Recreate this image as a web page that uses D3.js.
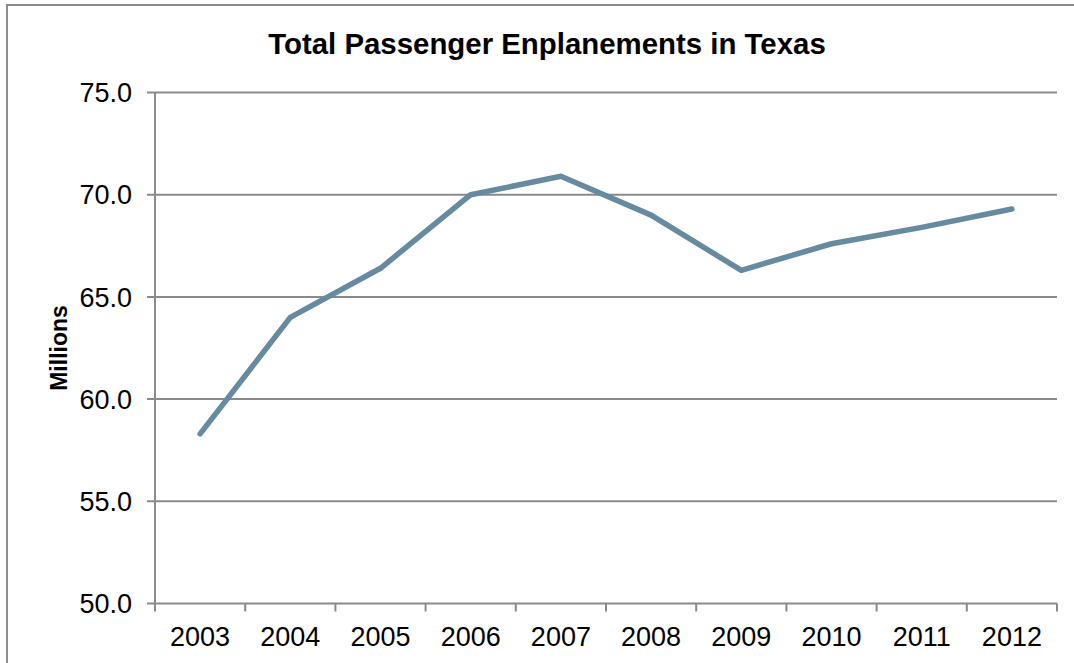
<!DOCTYPE html>
<html>
<head>
<meta charset="utf-8">
<script src="https://cdn.jsdelivr.net/npm/d3@7"></script>
<style>
  body { margin: 0; background: #fff; }
  svg { display: block; }
</style>
</head>
<body>
<svg id="chart"></svg>
<script>
var years = ['2003', '2004', '2005', '2006', '2007', '2008', '2009', '2010', '2011', '2012']
var enplanements = [58.3, 64.0, 66.4, 70.0, 70.9, 69.0, 66.3, 67.6, 68.4, 69.3]
var yTicks = [50, 55, 60, 65, 70, 75]

var width = 1074, height = 663
var margin = {top: 92.5, left: 155, right: 17, bottom: 59.5}
var innerWidth = width - margin.left - margin.right
var innerHeight = height - margin.top - margin.bottom

var svg = d3.select('#chart')
    .attr('width', width)
    .attr('height', height)

// outer chart border (only top and left edges are visible)
svg.append('path')
    .attr('d', 'M7,' + height + 'V5H' + width)
    .attr('fill', 'none')
    .attr('stroke', '#8c8c8c')
    .attr('stroke-width', 2)

svg.append('text')
    .attr('x', 547)
    .attr('y', 54)
    .attr('text-anchor', 'middle')
    .style('font-family', '"Liberation Sans", Arial, sans-serif')
    .style('font-weight', 'bold')
    .style('font-size', '29.4px')
    .text('Total Passenger Enplanements in Texas')

var g = svg.append('g')
    .attr('transform', 'translate(' + margin.left + ', ' + margin.top + ')')

var xScale = d3.scaleBand().domain(years).range([0, innerWidth])
var yScale = d3.scaleLinear().domain([50, 75]).range([innerHeight, 0])

// horizontal gridlines with left tick marks
g.selectAll('.grid')
    .data(yTicks)
    .enter()
    .append('line')
    .attr('x1', -8)
    .attr('x2', innerWidth)
    .attr('y1', function (d) { return yScale(d) })
    .attr('y2', function (d) { return yScale(d) })
    .attr('stroke', '#8a8a8a')
    .attr('stroke-width', 2)

g.selectAll('.ylab')
    .data(yTicks)
    .enter()
    .append('text')
    .attr('x', -23)
    .attr('y', function (d) { return yScale(d) })
    .attr('dy', '0.36em')
    .attr('text-anchor', 'end')
    .style('font-family', '"Liberation Sans", Arial, sans-serif')
    .style('font-size', '27px')
    .text(function (d) { return d.toFixed(1) })

// y axis line
g.append('line')
    .attr('x1', 0).attr('x2', 0)
    .attr('y1', 0).attr('y2', innerHeight)
    .attr('stroke', '#8a8a8a')
    .attr('stroke-width', 2)

// x axis ticks at band edges
var edges = years.map(function (d) { return xScale(d) }).concat([innerWidth])
g.selectAll('.xtick')
    .data(edges)
    .enter()
    .append('line')
    .attr('x1', function (d) { return d })
    .attr('x2', function (d) { return d })
    .attr('y1', innerHeight)
    .attr('y2', innerHeight + 8)
    .attr('stroke', '#8a8a8a')
    .attr('stroke-width', 2)

g.selectAll('.xlab')
    .data(years)
    .enter()
    .append('text')
    .attr('x', function (d) { return xScale(d) + xScale.bandwidth() / 2 })
    .attr('y', innerHeight + 42)
    .attr('text-anchor', 'middle')
    .style('font-family', '"Liberation Sans", Arial, sans-serif')
    .style('font-size', '27px')
    .text(function (d) { return d })

svg.append('text')
    .attr('transform', 'translate(67, 348) rotate(-90)')
    .attr('text-anchor', 'middle')
    .style('font-family', '"Liberation Sans", Arial, sans-serif')
    .style('font-weight', 'bold')
    .style('font-size', '23px')
    .text('Millions')

var line = d3.line()
    .x(function (d, i) { return xScale(years[i]) + xScale.bandwidth() / 2 })
    .y(function (d) { return yScale(d) })

g.append('path')
    .datum(enplanements)
    .attr('d', line)
    .attr('fill', 'none')
    .attr('stroke', '#668aa0')
    .attr('stroke-width', 5.5)
    .attr('stroke-linecap', 'round')
    .attr('stroke-linejoin', 'round')
</script>
</body>
</html>
